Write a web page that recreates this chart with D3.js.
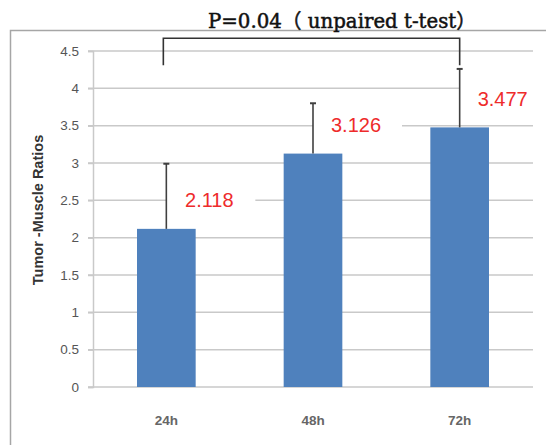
<!DOCTYPE html>
<html>
<head>
<meta charset="utf-8">
<script src="https://cdn.jsdelivr.net/npm/d3@7"></script>
<style>
  html, body { margin: 0; padding: 0; background: #fff; }
  svg { display: block; }
</style>
</head>
<body>
<svg id="chart" width="546" height="445"></svg>
<script>
// ---- data ----
const categories = ["24h", "48h", "72h"];
const means = [2.118, 3.126, 3.477];
const errorTops = [2.99, 3.80, 4.26];
const valueLabels = ["2.118", "3.126", "3.477"];
const yTicks = [0, 0.5, 1, 1.5, 2, 2.5, 3, 3.5, 4, 4.5];
const yTickLabels = ["0", "0.5", "1", "1.5", "2", "2.5", "3", "3.5", "4", "4.5"];
const yAxisTitle = "Tumor -Muscle Ratios";
const annotation = "P=0.04（ unpaired t-test）";
const bracketPair = ["24h", "72h"];

// ---- layout ----
const svg = d3.select("#chart");
const plotLeft = 93, plotRight = 533, plotTop = 51, plotBottom = 387;

const x = d3.scaleBand().domain(categories).range([plotLeft, plotRight])
  .paddingInner(0.6).paddingOuter(0.3);
const y = d3.scaleLinear().domain([0, 4.5]).range([plotBottom, plotTop]);

// outer frame
svg.append("path")
  .attr("d", "M10.5,460 L10.5,30.5 L560,30.5")
  .attr("fill", "none").attr("stroke", "#a6a6a6").attr("stroke-width", 1.5);

// gridlines
svg.append("g").selectAll("line").data(yTicks.filter(d => d > 0)).join("line")
  .attr("x1", plotLeft - 5).attr("x2", plotRight)
  .attr("y1", d => y(d)).attr("y2", d => y(d))
  .attr("stroke", "#c9c9c9").attr("stroke-width", 1.5);

// y axis
const yAxis = d3.axisLeft(y).tickValues(yTicks)
  .tickFormat((d, i) => yTickLabels[i]).tickSize(5).tickPadding(9);
const gy = svg.append("g").attr("transform", `translate(${plotLeft},0)`).call(yAxis);
gy.select(".domain").attr("stroke", "#c9c9c9").attr("stroke-width", 1.5);
gy.selectAll(".tick line").attr("stroke", "#c9c9c9").attr("stroke-width", 1.5);
gy.selectAll(".tick text")
  .attr("font-family", "'Liberation Sans', Arial, sans-serif")
  .attr("font-size", 13.5).attr("fill", "#555");

// x axis
const xAxis = d3.axisBottom(x).tickSize(0).tickPadding(28);
const gx = svg.append("g").attr("transform", `translate(0,${plotBottom})`).call(xAxis);
gx.select(".domain").attr("stroke", "#c9c9c9").attr("stroke-width", 1.5)
  .attr("d", `M${plotLeft - 5},0H${plotRight}`);
gx.selectAll(".tick text")
  .attr("font-family", "'Liberation Sans', Arial, sans-serif")
  .attr("font-weight", "bold")
  .attr("font-size", 13.5).attr("fill", "#666");

// y title
svg.append("text")
  .attr("transform", `translate(43,${(plotTop + plotBottom) / 2 - 9}) rotate(-90)`)
  .attr("text-anchor", "middle")
  .attr("font-family", "'Liberation Sans', Arial, sans-serif")
  .attr("font-weight", "bold").attr("font-size", 14.5).attr("fill", "#333")
  .text(yAxisTitle);

// bars
svg.append("g").selectAll("rect").data(categories).join("rect")
  .attr("x", d => x(d)).attr("width", x.bandwidth())
  .attr("y", (d, i) => y(means[i]))
  .attr("height", (d, i) => y(0) - y(means[i]))
  .attr("fill", "#4f81bd");

// label boxes (white, interrupt gridlines)
const labelGap = 21.5;
svg.append("g").selectAll("rect").data(categories).join("rect")
  .attr("x", d => x(d) + x.bandwidth() / 2)
  .attr("width", 89)
  .attr("y", (d, i) => y(means[i]) - labelGap - 19)
  .attr("height", 26)
  .attr("fill", "#fff");

// error bars
const eb = svg.append("g").attr("stroke", "#404040").attr("stroke-width", 1.6);
categories.forEach((c, i) => {
  const cx = x(c) + x.bandwidth() / 2;
  eb.append("line").attr("x1", cx).attr("x2", cx)
    .attr("y1", y(means[i])).attr("y2", y(errorTops[i]));
  eb.append("line").attr("x1", cx - 3).attr("x2", cx + 3)
    .attr("y1", y(errorTops[i])).attr("y2", y(errorTops[i])).attr("stroke-width", 2);
});

// value labels
svg.append("g").selectAll("text").data(categories).join("text")
  .attr("x", d => x(d) + x.bandwidth() / 2 + 43)
  .attr("y", (d, i) => y(means[i]) - labelGap)
  .attr("text-anchor", "middle")
  .attr("font-family", "'Liberation Sans', Arial, sans-serif")
  .attr("font-size", 20).attr("fill", "#ee2b2b")
  .text((d, i) => valueLabels[i]);

// significance bracket
const bx1 = x(bracketPair[0]) + x.bandwidth() / 2 - 3;
const bx2 = x(bracketPair[1]) + x.bandwidth() / 2;
const bTop = y(4.67), bBottom = y(4.31);
svg.append("path")
  .attr("d", `M${bx1},${bBottom}V${bTop}H${bx2}V${bBottom}`)
  .attr("fill", "none").attr("stroke", "#333").attr("stroke-width", 1.6);

// annotation
svg.append("text")
  .attr("x", 208).attr("y", 28)
  .attr("font-family", "'DejaVu Serif', 'Liberation Serif', 'Noto Sans CJK SC', serif")
  .attr("font-size", 20).attr("fill", "#111")
  .attr("stroke", "#111").attr("stroke-width", 0.5)
  .attr("textLength", 268).attr("lengthAdjust", "spacingAndGlyphs")
  .text(annotation);
</script>
</body>
</html>
